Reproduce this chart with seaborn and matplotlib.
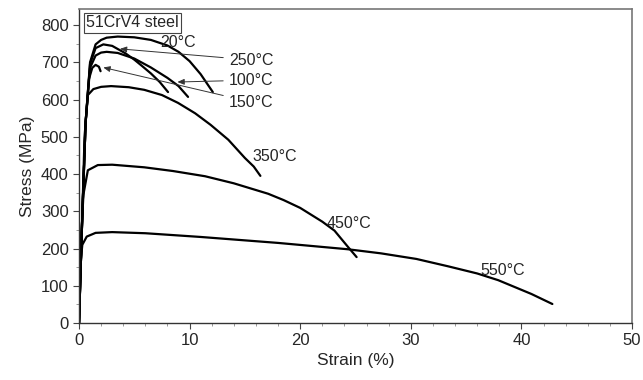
import numpy as np
import pandas as pd
import seaborn as sns
import matplotlib.pyplot as plt
from matplotlib.ticker import MultipleLocator

# curves (strain in %, stress in MPa)
strain_20 = [0, 0.3, 0.6, 1.0, 1.5, 2.0, 2.5, 3.5, 5.0, 6.5, 8.0, 9.0, 10.0, 11.0, 12.1]
stress_20 = [0, 290, 540, 700, 748, 760, 766, 769, 767, 760, 745, 728, 703, 668, 620]

strain_100 = [0, 0.3, 0.6, 1.0, 1.5, 2.0, 2.5, 3.5, 5.0, 6.5, 8.0, 9.0, 9.86]
stress_100 = [0, 290, 540, 685, 718, 726, 728, 725, 710, 686, 658, 636, 607]

strain_150 = [0, 0.3, 0.6, 0.9, 1.2, 1.5, 1.8, 1.95]
stress_150 = [0, 290, 540, 655, 685, 693, 688, 676]

strain_250 = [0, 0.3, 0.6, 1.0, 1.5, 2.2, 3.0, 4.2, 5.0, 5.7, 6.5, 7.3, 8.05]
stress_250 = [0, 290, 540, 695, 738, 748, 744, 724, 707, 690, 670, 647, 620]

strain_350 = [0, 0.3, 0.5, 0.8, 1.3, 2.0, 2.9, 4.5, 5.9, 7.5, 8.95, 10.5, 11.9, 13.5, 15.0, 15.8, 16.4]
stress_350 = [0, 290, 500, 612, 628, 634, 636, 633, 626, 612, 591, 563, 532, 492, 443, 420, 395]

strain_450 = [0, 0.15, 0.4, 0.8, 1.7, 3.0, 5.9, 8.5, 11.4, 14.0, 17.1, 18.5, 20.0, 22.0, 23.1, 24.3, 25.1]
stress_450 = [0, 200, 345, 410, 424, 425, 418, 408, 394, 375, 347, 330, 309, 272, 248, 205, 177]

strain_550 = [0, 0.1, 0.3, 0.7, 1.5, 3.0, 6.0, 11.0, 18.0, 24.3, 27.3, 30.5, 33.4, 36.0, 37.9, 40.9, 42.8]
stress_550 = [0, 150, 210, 232, 242, 244, 241, 231, 215, 198, 187, 172, 152, 133, 115, 78, 51]

curves = [
    ("20°C", strain_20, stress_20),
    ("100°C", strain_100, stress_100),
    ("150°C", strain_150, stress_150),
    ("250°C", strain_250, stress_250),
    ("350°C", strain_350, stress_350),
    ("450°C", strain_450, stress_450),
    ("550°C", strain_550, stress_550),
]

# label positions (text centre) and arrow targets, in data units
labels = ["20°C", "250°C", "100°C", "150°C", "350°C", "450°C", "550°C"]
label_x = [8.95, 15.6, 15.6, 15.6, 17.7, 24.4, 38.3]
label_y = [752, 706, 652, 593, 448, 266, 140]
arrow_to = {"250°C": (3.7, 736), "100°C": (8.9, 647), "150°C": (2.2, 686)}

df = pd.concat(
    [pd.DataFrame({"temp": t, "strain": x, "stress": y}) for t, x, y in curves],
    ignore_index=True,
)

sns.set_style("ticks")
plt.rcParams["font.family"] = ["Liberation Sans", "DejaVu Sans"]

fig = plt.figure(figsize=(6.43, 3.80), dpi=100)
ax = fig.add_axes([79 / 643, 57 / 380, 553 / 643, 314 / 380])

for t, g in df.groupby("temp", sort=False):
    sns.lineplot(data=g, x="strain", y="stress", sort=False, estimator=None,
                 color="black", linewidth=1.6, ax=ax)

for lab, lx, ly in zip(labels, label_x, label_y):
    if lab in arrow_to:
        ax.annotate(lab, xy=arrow_to[lab], xytext=(lx, ly), ha="center", va="center",
                    fontsize=11.5,
                    arrowprops=dict(arrowstyle="-|>,head_length=0.35,head_width=0.15",
                                    color="#333333", lw=0.7, shrinkA=2, shrinkB=0))
    else:
        ax.text(lx, ly, lab, ha="center", va="center", fontsize=11.5)

ax.text(4.84, 806, "51CrV4 steel", ha="center", va="center", fontsize=11.5,
        bbox=dict(boxstyle="square,pad=0.15", facecolor="white", edgecolor="#444444", lw=0.8))

ax.set_xlim(0, 50)
ax.set_ylim(0, 843)
ax.set_xticks(np.arange(0, 51, 10))
ax.set_yticks(np.arange(0, 801, 100))
ax.xaxis.set_minor_locator(MultipleLocator(2))
ax.yaxis.set_minor_locator(MultipleLocator(50))
ax.tick_params(axis="both", which="major", direction="out", length=4, width=0.8,
               labelsize=12, color="#444444")
ax.tick_params(axis="both", which="minor", direction="out", length=2.5, width=0.6,
               color="#888888")
ax.set_xlabel("Strain (%)", fontsize=12.5, labelpad=3)
ax.set_ylabel("Stress (MPa)", fontsize=12.5, labelpad=4)

for side in ["top", "right"]:
    ax.spines[side].set_visible(True)
    ax.spines[side].set_color("#777777")
    ax.spines[side].set_linewidth(1.2)
for side in ["left", "bottom"]:
    ax.spines[side].set_color("#333333")
    ax.spines[side].set_linewidth(1.0)

fig.savefig("out.png", dpi=100)
